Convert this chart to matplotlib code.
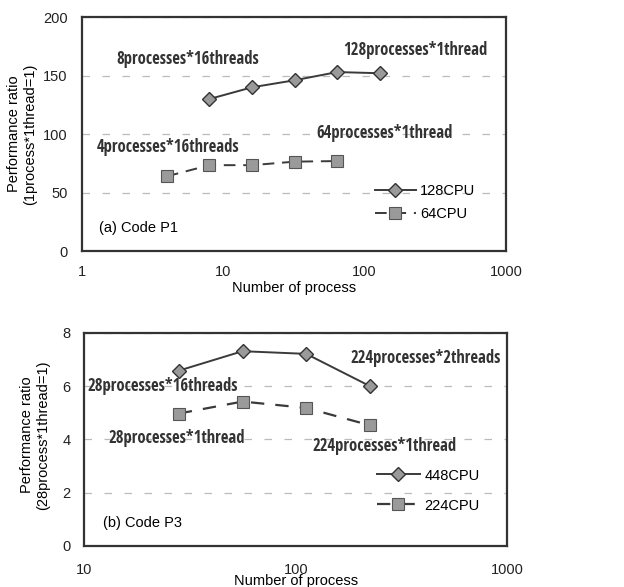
import matplotlib
matplotlib.use("Agg")
import matplotlib.pyplot as plt

# ---- data ----
p1_x_128 = [8, 16, 32, 64, 128]
p1_y_128 = [130, 140, 146, 153, 152]
p1_x_64 = [4, 8, 16, 32, 64]
p1_y_64 = [64, 73.5, 73.5, 76.5, 77]

p3_x_448 = [28, 56, 112, 224]
p3_y_448 = [6.58, 7.31, 7.21, 6.0]
p3_x_224 = [28, 56, 112, 224]
p3_y_224 = [4.97, 5.42, 5.18, 4.53]

p1_yticks = [0, 50, 100, 150, 200]
p3_yticks = [0, 2, 4, 6, 8]

plt.rcParams['font.family'] = ['Liberation Sans', 'DejaVu Sans']
narrow = ['Open Sans Condensed', 'DejaVu Sans']

fig = plt.figure(figsize=(6.24, 5.87), dpi=100)
ax1 = fig.add_axes([0.131, 0.572, 0.680, 0.399])
ax2 = fig.add_axes([0.135, 0.070, 0.678, 0.363])

line_c = '#3a3a3a'
mfc = '#9a9a9a'

def style(ax):
    ax.set_xscale('log')
    for s in ax.spines.values():
        s.set_linewidth(1.6)
        s.set_color('#333333')
    ax.tick_params(length=0, labelsize=10.5, colors='#222222')
    ax.tick_params(axis='x', pad=10)
    ax.tick_params(axis='y', pad=10)
    ax.minorticks_off()
    ax.grid(axis='y', linestyle=(0, (6, 10)), color='#bbbbbb', linewidth=0.9)
    ax.set_axisbelow(True)

# ---- top panel ----
style(ax1)
ax1.plot(p1_x_128, p1_y_128, color=line_c, lw=1.4, marker='D', ms=7,
         mfc=mfc, mec='#333333', mew=1.0, label='128CPU')
ax1.plot(p1_x_64, p1_y_64, color=line_c, lw=1.4, ls=(0, (6, 4)), marker='s', ms=8.5,
         mfc=mfc, mec='#555555', mew=0.8, label='64CPU')
ax1.set_xlim(1, 1000)
ax1.set_ylim(0, 200)
ax1.set_yticks(p1_yticks)
ax1.set_xticks([1, 10, 100, 1000])
ax1.set_xticklabels(['1', '10', '100', '1000'])
ax1.set_xlabel('Number of process', fontsize=10.5, labelpad=1)
ax1.set_ylabel('Performance ratio\n(1process*1thread=1)', fontsize=10.5)
ax1.yaxis.set_label_coords(-0.104, 0.5)
kw = dict(fontsize=12, fontweight='bold', family=narrow, fontstretch='condensed',
          color='#333333', ha='center', va='center')
ax1.text(5.6, 164, '8processes*16threads', **kw)
ax1.text(227, 172, '128processes*1thread', **kw)
ax1.text(4.07, 89, '4processes*16threads', **kw)
ax1.text(139, 100.6, '64processes*1thread', **kw)
ax1.text(0.04, 0.10, '(a) Code P1', transform=ax1.transAxes, fontsize=10.5,
         ha='left', va='center')
ax1.legend(loc='lower left', bbox_to_anchor=(0.66, 0.073), frameon=False,
           fontsize=10.5, handlelength=2.8, handletextpad=0.3, labelspacing=0.6)

# ---- bottom panel ----
style(ax2)
ax2.plot(p3_x_448, p3_y_448, color=line_c, lw=1.4, marker='D', ms=7,
         mfc=mfc, mec='#333333', mew=1.0, label='448CPU')
ax2.plot(p3_x_224, p3_y_224, color=line_c, lw=1.6, ls=(0, (6, 5)), marker='s', ms=8.5,
         mfc=mfc, mec='#555555', mew=0.8, label='224CPU')
ax2.set_xlim(10, 1000)
ax2.set_ylim(0, 8)
ax2.set_yticks(p3_yticks)
ax2.set_xticks([10, 100, 1000])
ax2.set_xticklabels(['10', '100', '1000'])
ax2.tick_params(axis='x', pad=12)
ax2.set_xlabel('Number of process', fontsize=10.5, labelpad=-2)
ax2.set_ylabel('Performance ratio\n(28process*1thread=1)', fontsize=10.5)
ax2.yaxis.set_label_coords(-0.080, 0.52)
ax2.text(23.4, 6.02, '28processes*16threads', **kw)
ax2.text(409, 7.06, '224processes*2threads', **kw)
ax2.text(27.5, 4.05, '28processes*1thread', **kw)
ax2.text(262, 3.76, '224processes*1thread', **kw)
ax2.text(0.045, 0.108, '(b) Code P3', transform=ax2.transAxes, fontsize=10.5,
         ha='left', va='center')
ax2.legend(loc='lower left', bbox_to_anchor=(0.66, 0.095), frameon=False,
           fontsize=10.5, handlelength=3.0, handletextpad=0.3, labelspacing=1.1)

fig.savefig('out.png', dpi=100)
